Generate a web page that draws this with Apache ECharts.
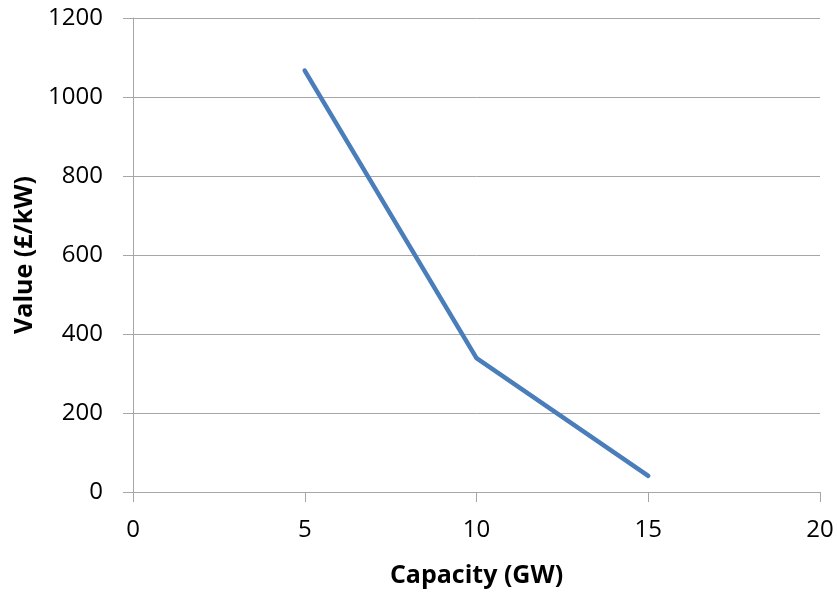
<!DOCTYPE html>
<html><head><meta charset="utf-8">
<script src="https://cdn.jsdelivr.net/npm/echarts@6/dist/echarts.min.js"></script>
<style>html,body{margin:0;padding:0;background:#fff}#c{width:837px;height:594px}</style>
</head><body><div id="c"></div>
<script>
const capacity = [5, 10, 15];
const values = [1067, 339, 41];
const xTitle = 'Capacity (GW)';
const yTitle = 'Value (£/kW)';
const font = '"Open Sans", "Liberation Sans", sans-serif';
const chart = echarts.init(document.getElementById('c'));
chart.setOption({
  animation: false,
  grid: {left: 133, right: 17, top: 18, bottom: 102},
  xAxis: {
    type: 'value', min: 0, max: 20, interval: 5,
    name: xTitle, nameLocation: 'middle', nameGap: 71,
    nameTextStyle: {fontFamily: font, fontSize: 25, fontWeight: 'bold', color: '#000'},
    axisLine: {show: true, lineStyle: {color: '#a6a6a6', width: 1}},
    axisTick: {show: true, length: 10, lineStyle: {color: '#a6a6a6'}},
    axisLabel: {fontFamily: font, fontSize: 24, color: '#000', margin: 26},
    splitLine: {show: false}
  },
  yAxis: {
    type: 'value', min: 0, max: 1200, interval: 200,
    name: yTitle, nameLocation: 'middle', nameGap: 93, nameRotate: 90,
    nameTextStyle: {fontFamily: font, fontSize: 25, fontWeight: 'bold', color: '#000'},
    axisLine: {show: true, lineStyle: {color: '#a6a6a6', width: 1}},
    axisTick: {show: true, length: 10, lineStyle: {color: '#a6a6a6'}},
    axisLabel: {fontFamily: font, fontSize: 24, color: '#000', margin: 30, formatter: v => String(v)},
    splitLine: {show: true, lineStyle: {color: '#a6a6a6', width: 1}}
  },
  series: [{
    type: 'line',
    data: capacity.map((c, i) => [c, values[i]]),
    showSymbol: false,
    lineStyle: {color: '#4a7ebb', width: 4.5, cap: 'round', join: 'round'},
    itemStyle: {color: '#4a7ebb'}
  }]
});
</script></body></html>
